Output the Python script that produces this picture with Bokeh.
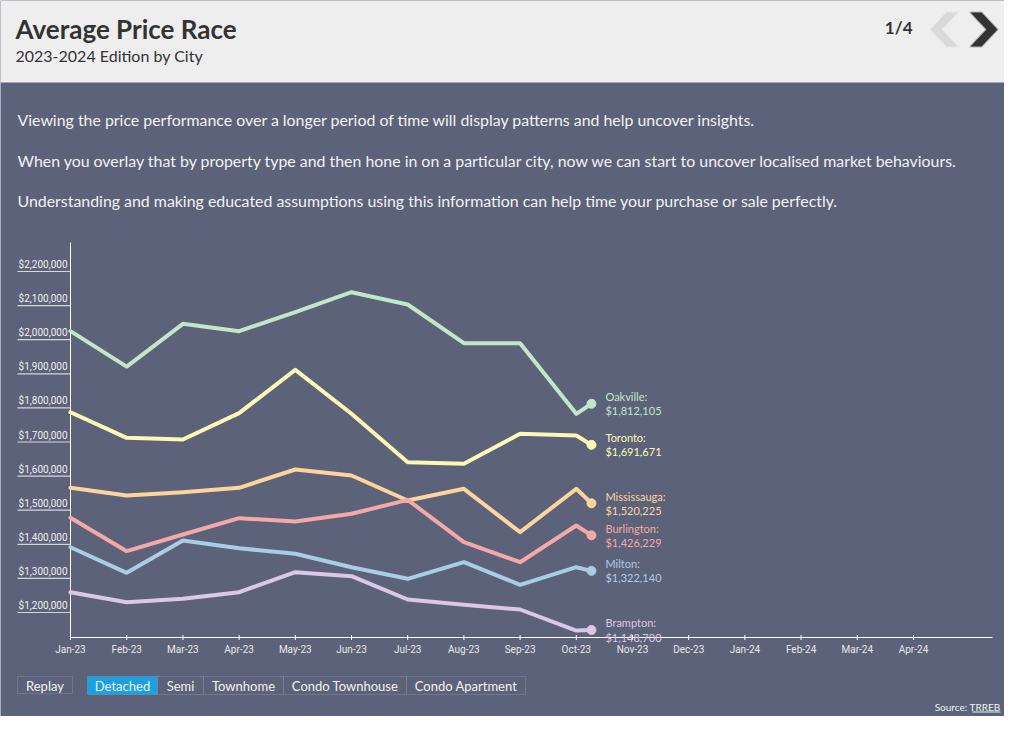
from bokeh.plotting import figure
from bokeh.models import Range1d, Label, BoxAnnotation, PolyAnnotation
from bokeh.core.properties import value
from bokeh.embed import file_html
from bokeh.resources import INLINE

# ---------------- data ----------------
months = ["Jan-23", "Feb-23", "Mar-23", "Apr-23", "May-23", "Jun-23", "Jul-23", "Aug-23",
          "Sep-23", "Oct-23", "Nov-23", "Dec-23", "Jan-24", "Feb-24", "Mar-24", "Apr-24"]
cities = ["Oakville", "Toronto", "Mississauga", "Burlington", "Milton", "Brampton"]
oakville = [2025000, 1921000, 2046600, 2025000, 2080700, 2139300, 2103200, 1989700, 1989700, 1782700]
toronto = [1787400, 1712300, 1707300, 1784500, 1911700, 1782700, 1640800, 1636000, 1724000, 1719100]
mississauga = [1565700, 1543100, 1552800, 1565700, 1619400, 1601800, 1528400, 1562700, 1435500, 1562700]
burlington = [1477700, 1379800, 1428700, 1476600, 1466900, 1489400, 1530400, 1406200, 1347500, 1455100]
milton = [1391500, 1316400, 1411100, 1388600, 1372100, 1332800, 1298800, 1347500, 1281200, 1332800]
brampton = [1259500, 1230200, 1240000, 1259500, 1318200, 1306400, 1238100, 1222500, 1208800, 1147200]
# animation frame currently shown (between Oct-23 and Nov-23)
current_position = 9.27
current_prices = [1812105, 1691671, 1520225, 1426229, 1322140, 1148700]
y_ticks = [1200000, 1300000, 1400000, 1500000, 1600000, 1700000, 1800000, 1900000,
           2000000, 2100000, 2200000]
property_types = ["Detached", "Semi", "Townhome", "Condo Townhouse", "Condo Apartment"]
series = [oakville, toronto, mississauga, burlington, milton, brampton]
colors = ["#c3e6c6", "#fdf9b4", "#fdd59c", "#f5a9a7", "#aacde3", "#dcc7e6"]

# ---------------- layout constants ----------------
W, H = 1004, 716
BG = "#5c627a"
FONT = "Lato"
PX_PER_MONTH = 56.2
PX_PER_100K = 34.1
ORIGIN_X = 70        # canvas px of first month
REF_Y = 271          # canvas px (from top) of $2,200,000
x_start = -ORIGIN_X / PX_PER_MONTH
x_end = (W - ORIGIN_X) / PX_PER_MONTH
y_top = 2200000 + REF_Y / PX_PER_100K * 100000
y_bottom = 2200000 - (H - REF_Y) / PX_PER_100K * 100000
axis_y_min = 2200000 - (637 - REF_Y) / PX_PER_100K * 100000
axis_y_max = 2200000 + (REF_Y - 242) / PX_PER_100K * 100000
axis_x_max = (992 - ORIGIN_X) / PX_PER_MONTH
underline_left = -53 / PX_PER_MONTH


def sx(X):
    return X


def sy(Y):
    return H - Y


p = figure(width=W, height=H, output_backend="svg", toolbar_location=None,
           x_range=Range1d(x_start, x_end), y_range=Range1d(y_bottom, y_top),
           x_axis_location=None, y_axis_location=None, min_border=0)
p.background_fill_color = BG
p.border_fill_color = BG
p.outline_line_color = None
p.grid.visible = False

# header band
p.add_layout(BoxAnnotation(left=0, right=W, top=H, bottom=H - 82,
                           left_units="screen", right_units="screen",
                           top_units="screen", bottom_units="screen",
                           fill_color="#eeeeee", fill_alpha=1, line_color=None, level="underlay"))


def label(X, Y, text, size, color, bold=False, align="left", baseline="middle"):
    p.add_layout(Label(x=sx(X), y=sy(Y), x_units="screen", y_units="screen", text=text,
                       text_font=FONT, text_font_size=f"{size}px", text_color=color,
                       text_font_style="bold" if bold else "normal",
                       text_align=align, text_baseline=baseline))


label(15, 28, "Average Price Race", 26, "#333333", bold=True)
label(15, 55, "2023-2024 Edition by City", 16, "#333333")
label(912, 27, "1/4", 17, "#333333", bold=True, align="right")

# chevrons
for pts, col in [([(930, 29), (946, 12), (957, 12), (941, 29), (957, 46), (946, 46)], "#d9d9d9"),
                 ([(997, 29), (981, 12), (970, 12), (986, 29), (970, 46), (981, 46)], "#333333")]:
    p.add_layout(PolyAnnotation(xs=[sx(a) for a, b in pts], ys=[sy(b) for a, b in pts],
                                xs_units="screen", ys_units="screen",
                                fill_color=col, fill_alpha=1, line_color=col, line_width=2,
                                line_join="round"))

paras = ["Viewing the price performance over a longer period of time will display patterns and help uncover insights.",
         "When you overlay that by property type and then hone in on a particular city, now we can start to uncover localised market behaviours.",
         "Understanding and making educated assumptions using this information can help time your purchase or sale perfectly."]
for i, t in enumerate(paras):
    label(17, 119 + i * 40.5, t, 15.9, "#f2f2f2")

# y tick labels with underlines
p.segment(x0=underline_left, y0=y_ticks, x1=0, y1=y_ticks, line_color="#d4d6de", line_width=1.2)
p.text(x=[0] * len(y_ticks), y=y_ticks, text=[f"${v:,}" for v in y_ticks],
       x_offset=-3, y_offset=-7, text_align="right", text_baseline="middle",
       text_font=value("Roboto"), text_font_size="10px", text_color="#f0f0f4")

# axes lines
p.segment(x0=[0], y0=[axis_y_min], x1=[0], y1=[axis_y_max], line_color="#ffffff", line_width=1)
p.segment(x0=[0], y0=[axis_y_min], x1=[axis_x_max], y1=[axis_y_min], line_color="#ffffff", line_width=1)
idx = list(range(len(months)))
p.scatter(x=idx, y=[axis_y_min] * len(idx), marker="dash", angle=1.5708, size=5,
          line_color="#ffffff", line_width=1)
p.text(x=idx, y=[axis_y_min] * len(idx), text=months, y_offset=12, text_align="center",
       text_baseline="middle", text_font=value("Roboto"), text_font_size="10px",
       text_color="#e8e8e8")

# lines
for k, (vals, col) in enumerate(zip(series, colors)):
    xs = list(range(len(vals))) + [current_position]
    ys = vals + [current_prices[k]]
    p.line(xs, ys, line_color=col, line_width=4, line_join="round", line_cap="round")

p.scatter(x=[current_position] * len(cities), y=current_prices, size=9,
          fill_color=colors, line_color=colors)
p.text(x=[current_position] * len(cities), y=current_prices,
       text=[f"{c}:\n${v:,}" for c, v in zip(cities, current_prices)],
       x_offset=14, text_align="left", text_baseline="middle",
       text_font=value(FONT), text_font_size="11px", text_color=colors, text_line_height=1.1)


# buttons
def box(x0, x1, y0, y1, fill=None):
    p.add_layout(BoxAnnotation(left=sx(x0), right=sx(x1), top=sy(y0), bottom=sy(y1),
                               left_units="screen", right_units="screen",
                               top_units="screen", bottom_units="screen",
                               fill_color=fill if fill else BG, fill_alpha=1,
                               line_color="#a3a7b6", line_width=1))


box(17, 72, 676, 693)
label(44.5, 685, "Replay", 13, "#f2f2f2", align="center")
edges = [87, 157, 203, 283, 406, 525]
for i, t in enumerate(property_types):
    box(edges[i], edges[i + 1], 676, 694, fill="#1ba1e2" if i == 0 else None)
    label((edges[i] + edges[i + 1]) / 2, 685, t, 13, "#f2f2f2", align="center")

label(1000, 706, "Source: TRREB", 10, "#f2f2f2", align="right")
p.add_layout(BoxAnnotation(left=sx(972), right=sx(1000), top=sy(711), bottom=sy(712),
                           left_units="screen", right_units="screen",
                           top_units="screen", bottom_units="screen",
                           fill_color="#f2f2f2", fill_alpha=1, line_color=None))

open("out.html", "w").write(file_html(p, INLINE))
